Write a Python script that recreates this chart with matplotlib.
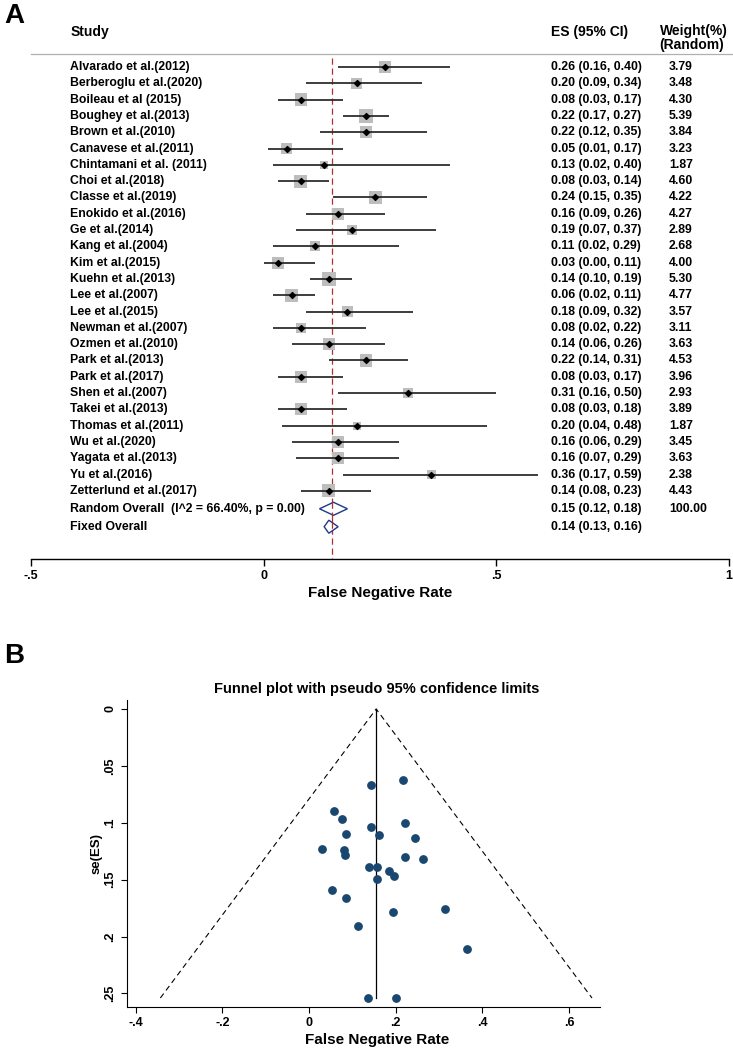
import matplotlib
matplotlib.use("Agg")
import matplotlib.pyplot as plt
from matplotlib.patches import Polygon

plt.rcParams['font.family'] = ['Liberation Sans', 'DejaVu Sans']

# ---- forest plot data ----
studies = [
    'Alvarado et al.(2012)', 'Berberoglu et al.(2020)', 'Boileau et al (2015)',
    'Boughey et al.(2013)', 'Brown et al.(2010)', 'Canavese et al.(2011)',
    'Chintamani et al. (2011)', 'Choi et al.(2018)', 'Classe et al.(2019)',
    'Enokido et al.(2016)', 'Ge et al.(2014)', 'Kang et al.(2004)',
    'Kim et al.(2015)', 'Kuehn et al.(2013)', 'Lee et al.(2007)',
    'Lee et al.(2015)', 'Newman et al.(2007)', 'Ozmen et al.(2010)',
    'Park et al.(2013)', 'Park et al.(2017)', 'Shen et al.(2007)',
    'Takei et al.(2013)', 'Thomas et al.(2011)', 'Wu et al.(2020)',
    'Yagata et al.(2013)', 'Yu et al.(2016)', 'Zetterlund et al.(2017)',
]
es = [0.26, 0.20, 0.08, 0.22, 0.22, 0.05, 0.13, 0.08, 0.24, 0.16, 0.19, 0.11, 0.03, 0.14,
      0.06, 0.18, 0.08, 0.14, 0.22, 0.08, 0.31, 0.08, 0.20, 0.16, 0.16, 0.36, 0.14]
ci_low = [0.16, 0.09, 0.03, 0.17, 0.12, 0.01, 0.02, 0.03, 0.15, 0.09, 0.07, 0.02, 0.00, 0.10,
          0.02, 0.09, 0.02, 0.06, 0.14, 0.03, 0.16, 0.03, 0.04, 0.06, 0.07, 0.17, 0.08]
ci_high = [0.40, 0.34, 0.17, 0.27, 0.35, 0.17, 0.40, 0.14, 0.35, 0.26, 0.37, 0.29, 0.11, 0.19,
           0.11, 0.32, 0.22, 0.26, 0.31, 0.17, 0.50, 0.18, 0.48, 0.29, 0.29, 0.59, 0.23]
weights = [3.79, 3.48, 4.30, 5.39, 3.84, 3.23, 1.87, 4.60, 4.22, 4.27, 2.89, 2.68, 4.00, 5.30,
           4.77, 3.57, 3.11, 3.63, 4.53, 3.96, 2.93, 3.89, 1.87, 3.45, 3.63, 2.38, 4.43]

random_es, random_lo, random_hi = 0.15, 0.12, 0.18
fixed_es, fixed_lo, fixed_hi = 0.14, 0.13, 0.16
i2, p_het = 66.40, 0.00
ref_line = 0.146

# ---- funnel plot data ----
funnel_es = [0.264, 0.196, 0.085, 0.216, 0.222, 0.053, 0.135, 0.076, 0.245, 0.161, 0.194,
             0.112, 0.031, 0.142, 0.057, 0.185, 0.085, 0.138, 0.221, 0.080, 0.314, 0.083,
             0.201, 0.156, 0.157, 0.365, 0.142]
funnel_se = [0.132, 0.147, 0.110, 0.062, 0.130, 0.159, 0.254, 0.097, 0.113, 0.111, 0.178,
             0.191, 0.123, 0.067, 0.090, 0.142, 0.166, 0.139, 0.100, 0.124, 0.176, 0.128,
             0.254, 0.149, 0.139, 0.211, 0.104]
funnel_center = 0.155
se_max = 0.254

W, H = 733, 1050
fig = plt.figure(figsize=(W / 100, H / 100), dpi=100)


def fx(px):
    return px / W


def fy(py):
    return 1 - py / H


# ================= Panel A: forest plot =================
ax = fig.add_axes([fx(31), fy(559), fx(729) - fx(31), fy(10) - fy(559)])
ax.set_xlim(-0.5, 1)
ax.set_ylim(31.18, -2.5)
for s in ['left', 'right', 'top']:
    ax.spines[s].set_visible(False)
ax.spines['bottom'].set_linewidth(1.0)
ax.set_yticks([])
ax.set_xticks([-0.5, 0, 0.5, 1])
ax.set_xticklabels(['-.5', '0', '.5', '1'], fontsize=9, fontweight='bold')
ax.tick_params(axis='x', direction='out', length=5, width=1, pad=3)

rows = list(range(1, len(studies) + 1))
ax.hlines(rows, ci_low, ci_high, color='#2e2e2e', lw=1.3, zorder=2)
ax.scatter(es, rows, s=[w * 19 for w in weights], marker='s', color='#bdbdbd',
           edgecolor='none', zorder=1)
ax.scatter(es, rows, s=9, marker='D', color='black', zorder=3)

# reference line
ax.plot([ref_line, ref_line], [0.45, 31.18], color='#b03030', lw=0.9,
        ls=(0, (5, 3)), zorder=0)

# overall diamonds
r_rand, r_fix = 28.1, 29.2
for (c, lo, hi), r in [((random_es, random_lo, random_hi), r_rand),
                       ((fixed_es, fixed_lo, fixed_hi), r_fix)]:
    d = Polygon([[lo, r], [c, r - 0.4], [hi, r], [c, r + 0.4]], closed=True,
                facecolor='white', edgecolor='#1c3a8c', lw=1.0, zorder=4)
    ax.add_patch(d)
ax.plot([ref_line, ref_line], [r_rand - 0.4, r_fix + 0.4], color='#b03030', lw=0.9,
        ls=(0, (5, 3)), zorder=5)

x_study, x_es, x_w = -0.416, 0.617, 0.871
fs = 8.8
for r, name, e, lo, hi, w in zip(rows, studies, es, ci_low, ci_high, weights):
    ax.text(x_study, r, name, fontsize=fs, fontweight='bold', va='center', ha='left')
    ax.text(x_es, r, f'{e:.2f} ({lo:.2f}, {hi:.2f})', fontsize=fs, fontweight='bold',
            va='center', ha='left')
    ax.text(x_w, r, f'{w:.2f}', fontsize=fs, fontweight='bold', va='center', ha='left')

ax.text(x_study, r_rand, f'Random Overall  (I^2 = {i2:.2f}%, p = {p_het:.2f})',
        fontsize=fs, fontweight='bold', va='center', ha='left')
ax.text(x_es, r_rand, f'{random_es:.2f} ({random_lo:.2f}, {random_hi:.2f})',
        fontsize=fs, fontweight='bold', va='center', ha='left')
ax.text(x_w, r_rand, '100.00', fontsize=fs, fontweight='bold', va='center', ha='left')
ax.text(x_study, r_fix, 'Fixed Overall', fontsize=fs, fontweight='bold', va='center', ha='left')
ax.text(x_es, r_fix, f'{fixed_es:.2f} ({fixed_lo:.2f}, {fixed_hi:.2f})',
        fontsize=fs, fontweight='bold', va='center', ha='left')

# header
hs = 10
ax.text(x_study, -1.15, 'Study', fontsize=hs, fontweight='bold', va='center', ha='left')
ax.text(x_es, -1.15, 'ES (95% CI)', fontsize=hs, fontweight='bold', va='center', ha='left')
ax.text(0.851, -0.78, 'Weight(%)\n(Random)', fontsize=hs, fontweight='bold', va='center',
        ha='left', linespacing=0.95)
ax.plot([-0.5, 1.01], [0.2, 0.2], color='#b0b0b0', lw=0.9, clip_on=False)

fig.text(fx(380), fy(593), 'False Negative Rate', fontsize=11, fontweight='bold',
         ha='center', va='center')
fig.text(fx(14), fy(16), 'A', fontsize=20, fontweight='bold', ha='center', va='center')

# ================= Panel B: funnel plot =================
bx = fig.add_axes([fx(127), fy(1007), fx(600) - fx(127), fy(700) - fy(1007)])
bx.set_xlim(-0.4198, 0.6713)
bx.set_ylim(0.2619, -0.0079)
for s in ['right', 'top']:
    bx.spines[s].set_visible(False)
bx.set_xticks([-0.4, -0.2, 0, 0.2, 0.4, 0.6])
bx.set_xticklabels(['-.4', '-.2', '0', '.2', '.4', '.6'], fontsize=9, fontweight='bold')
bx.set_yticks([0, 0.05, 0.1, 0.15, 0.2, 0.25])
bx.set_yticklabels(['0', '.05', '.1', '.15', '.2', '.25'], fontsize=9, fontweight='bold',
                   rotation=90, va='center')
bx.tick_params(direction='out', length=4, width=0.8)

bx.plot([funnel_center - 1.96 * se_max, funnel_center, funnel_center + 1.96 * se_max],
        [se_max, 0, se_max], color='black', lw=0.8, ls=(0, (5, 3.5)))
bx.plot([funnel_center, funnel_center], [0, se_max], color='black', lw=0.9)
bx.scatter(funnel_es, funnel_se, s=28, color='#1a476f', zorder=3)

fig.text(fx(377), fy(689), 'Funnel plot with pseudo 95% confidence limits', fontsize=10.5,
         fontweight='bold', ha='center', va='center')
fig.text(fx(377), fy(1040), 'False Negative Rate', fontsize=11, fontweight='bold',
         ha='center', va='center')
fig.text(fx(97), fy(853), 'se(ES)', fontsize=9.5, fontweight='bold', rotation=90,
         ha='center', va='center')
fig.text(fx(14), fy(656), 'B', fontsize=20, fontweight='bold', ha='center', va='center')

fig.savefig('out.png', dpi=100, facecolor='white')
